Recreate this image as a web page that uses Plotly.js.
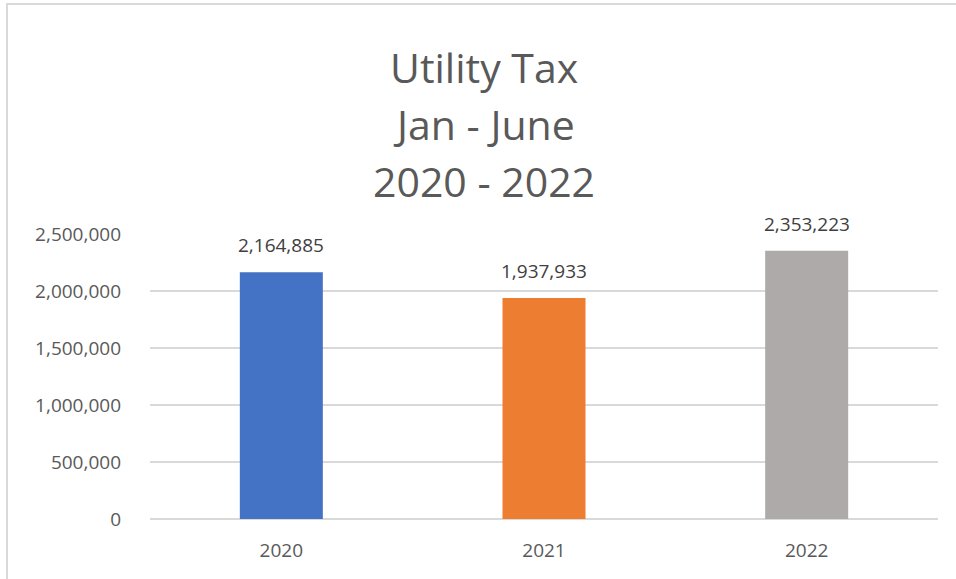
<!DOCTYPE html>
<html>
<head>
<meta charset="utf-8">
<script src="https://cdn.plot.ly/plotly-3.0.1.min.js"></script>
<style>
  body { margin: 0; background: #fff; }
  #wrap { position: relative; width: 956px; height: 579px; }
  #chart { width: 956px; height: 579px; }
  #frame {
    position: absolute; left: 6px; top: 3px; right: -10px; bottom: -10px;
    border-left: 2px solid #d9d9d9; border-top: 2px solid #d9d9d9;
    pointer-events: none;
  }
</style>
</head>
<body>
<div id="wrap">
  <div id="chart"></div>
  <div id="frame"></div>
</div>
<script>
/* ===== Data ===== */
const years = ["2020", "2021", "2022"];
const taxValues = [2164885, 1937933, 2353223];
const titleLines = ["Utility Tax", "Jan - June", "2020 - 2022"];
const yTicks = [0, 500000, 1000000, 1500000, 2000000, 2500000];

/* ===== Style ===== */
const barColors = ["#4472C4", "#ED7D31", "#AEAAAA"];
const fontFamily = "'Open Sans', 'Noto Sans', sans-serif";

// plot area in pixels
const plotTop = 233.5, plotBottom = 518.7;
const toPaper = py => (plotBottom - py) / (plotBottom - plotTop);

const fmt = v => v.toLocaleString("en-US");

const trace = {
    type: "bar",
    x: years,
    y: taxValues,
    marker: { color: barColors },
    hoverinfo: "x+y"
};

// data labels above bars (x given as category index)
const labelAnns = years.map((yr, i) => ({
    x: i, y: taxValues[i],
    xref: "x", yref: "y",
    text: fmt(taxValues[i]),
    showarrow: false,
    yanchor: "bottom",
    yshift: 12,
    font: { family: fontFamily, size: 19, color: "#404040" }
}));

// title, one annotation per line (Excel spacing)
const titleY = [66, 123, 180];
const titleAnns = titleLines.map((t, i) => ({
    xref: "paper", yref: "paper",
    x: (484 - 150) / 788, y: toPaper(titleY[i]),
    text: t,
    showarrow: false,
    xanchor: "center", yanchor: "middle",
    font: { family: fontFamily, size: 41, color: "#595959" }
}));

const layout = {
    width: 956, height: 579,
    margin: { l: 150, r: 18, t: plotTop, b: 579 - plotBottom, pad: 0 },
    paper_bgcolor: "#ffffff",
    plot_bgcolor: "#ffffff",
    bargap: 0.684,
    showlegend: false,
    font: { family: fontFamily, color: "#595959" },
    xaxis: {
        type: "category",
        range: [-0.5, 2.5],
        showgrid: false,
        showline: false,
        zeroline: false,
        ticks: "",
        ticklabelstandoff: 18,
        tickfont: { family: fontFamily, size: 19, color: "#595959" },
        fixedrange: true
    },
    yaxis: {
        range: [0, 2500000],
        tickvals: yTicks,
        ticktext: yTicks.map(fmt),
        showgrid: true,
        gridcolor: "#d9d9d9",
        gridwidth: 1.5,
        zeroline: true,
        zerolinecolor: "#d9d9d9",
        zerolinewidth: 1.5,
        showline: false,
        ticks: "",
        ticklabelstandoff: 28,
        tickfont: { family: fontFamily, size: 19, color: "#595959" },
        fixedrange: true
    },
    annotations: [...titleAnns, ...labelAnns]
};

Plotly.newPlot("chart", [trace], layout, { displayModeBar: false, staticPlot: true });
</script>
</body>
</html>
